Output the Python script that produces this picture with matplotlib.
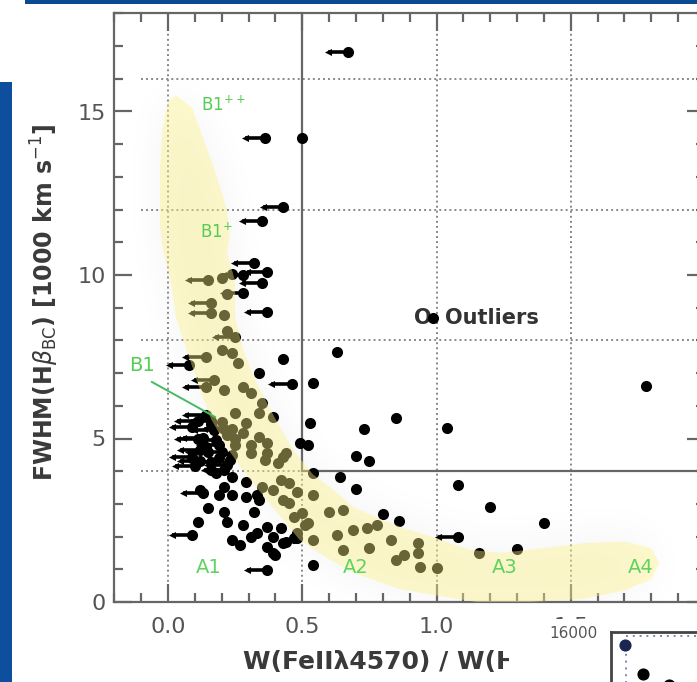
import numpy as np
import matplotlib.pyplot as plt
from matplotlib.patches import Polygon, Rectangle
from matplotlib.path import Path
from matplotlib.ticker import MultipleLocator

# FWHM(Hbeta_BC) in 1000 km/s against R_FeII = W(FeII 4570)/W(Hbeta)
det_x = [0.50, 0.24, 0.22, 0.21, 0.20, 0.26, 0.43, 0.63, 0.34, 0.54, 0.28, 0.85, 1.04, 0.53, 0.73,
         0.49, 0.52, 0.70, 0.75, 0.64, 1.08, 0.70, 1.20, 0.65, 0.80, 0.86, 0.78, 0.74, 0.48, 0.54,
         1.16, 0.54, 1.40, 1.30, 1.78,
         0.20, 0.54, 0.54, 0.50, 0.60, 0.51, 0.63, 0.75, 0.65, 0.83, 0.93, 0.85, 0.88, 0.94, 1.00,
         0.45, 0.45, 0.42, 0.31, 0.37, 0.48, 0.69, 0.93, 0.44, 0.41, 0.21, 0.31, 0.35, 0.25, 0.29,
         0.34, 0.39, 0.28, 0.34, 0.37, 0.43, 0.36, 0.31, 0.39, 0.43, 0.47, 0.52, 0.24, 0.22,
         0.21, 0.24, 0.29, 0.15, 0.11, 0.21, 0.22, 0.24, 0.27, 0.28, 0.32, 0.34, 0.33, 0.37, 0.39,
         0.42, 0.37, 0.39, 0.43, 0.35, 0.33, 0.48, 0.16, 0.23, 0.25, 0.12, 0.19, 0.18, 0.24, 0.29,
         0.31, 0.40, 0.44, 0.47, 0.20, 0.22, 0.16, 0.24, 0.19, 0.14, 0.24, 0.25]
det_y = [14.19, 10.03, 9.42, 8.78, 7.71, 7.31, 7.43, 7.65, 7.00, 6.70, 6.57, 5.63, 5.32, 5.47, 5.29,
         4.86, 4.80, 4.46, 4.31, 3.82, 3.58, 3.46, 2.91, 2.81, 2.69, 2.48, 2.35, 2.26, 1.96, 1.90,
         1.50, 1.13, 2.42, 1.62, 6.60,
         9.90, 3.94, 3.27, 2.72, 2.75, 2.35, 2.05, 1.65, 1.59, 1.90, 1.80, 1.28, 1.44, 1.07, 1.04,
         3.64, 3.03, 3.73, 4.80, 4.56, 3.36, 2.20, 1.50, 4.56, 4.25, 6.48, 6.39, 6.09, 5.78, 5.47,
         5.78, 5.66, 5.17, 5.05, 4.86, 4.43, 4.34, 4.56, 3.42, 3.12, 2.60, 2.42, 7.60, 8.30,
         3.52, 3.27, 3.67, 2.87, 2.45, 2.75, 2.45, 1.90, 1.74, 2.35, 2.75, 3.12, 2.11, 2.29, 1.99,
         2.26, 1.68, 1.50, 1.80, 3.52, 3.27, 2.11, 4.04, 4.34, 4.80, 3.42, 3.27, 3.94, 3.82, 3.21,
         1.99, 1.44, 1.83, 1.96, 5.50, 5.10, 5.45, 4.50, 4.40, 4.75, 5.30, 5.00]

# upper limits on R_FeII
lim_x = [0.67, 0.36, 0.43, 0.35, 0.32, 0.37, 0.28, 0.35, 0.28, 0.37, 0.15, 0.16, 0.16, 0.25, 0.14,
         0.08, 0.46, 0.17, 0.14, 0.14, 0.09, 0.17, 0.13, 0.19, 0.09, 0.20, 0.16, 0.21, 0.13, 0.09,
         0.37, 1.08, 0.11, 0.12, 0.10, 0.16, 0.21, 0.11, 0.18, 0.15, 0.22, 0.12]
lim_y = [16.82, 14.19, 12.08, 11.65, 10.37, 10.09, 10.00, 9.76, 9.45, 8.87, 9.85, 9.14, 8.84, 8.10, 7.49,
         7.25, 6.67, 6.79, 6.57, 5.72, 5.35, 5.26, 5.02, 4.80, 4.43, 4.59, 4.28, 4.04, 3.33, 2.05,
         0.98, 1.99, 5.55, 4.65, 4.15, 5.55, 5.30, 5.00, 4.95, 4.60, 4.20, 4.30]

# main sequence occupation (SDSS sample)
band_x = [0.03, 0.09, 0.13, 0.17, 0.22, 0.23, 0.22, 0.25, 0.25, 0.28, 0.33, 0.40, 0.47, 0.54, 0.62,
          0.69, 0.80, 0.90, 1.00, 1.12, 1.24, 1.40, 1.55, 1.70, 1.80, 1.83, 1.80,
          1.70, 1.55, 1.35, 1.15, 1.00, 0.86, 0.69, 0.58, 0.49, 0.44, 0.39, 0.33, 0.29, 0.23,
          0.16, 0.11, 0.07, 0.03, 0.01, -0.02, -0.03, -0.03, -0.02, 0.00]
band_y = [15.5, 15.1, 14.2, 13.3, 12.0, 11.2, 10.7, 9.8, 8.7, 7.7, 6.7, 5.6, 4.6, 3.9, 3.4,
          2.9, 2.5, 2.2, 1.95, 1.6, 1.5, 1.65, 1.8, 1.85, 1.65, 1.2, 0.7,
          0.35, 0.1, 0.0, 0.0, 0.2, 0.4, 0.9, 1.4, 1.9, 2.4, 2.9, 3.5, 3.9, 4.6,
          5.6, 6.7, 7.7, 8.7, 9.8, 10.8, 11.5, 13.3, 14.5, 15.3]

x_ticks = [0.0, 0.5, 1.0, 1.5, 2.0]
x_tick_labels = ['0.0', '0.5', '1.0', '1.5', '']

inset_x = [0.13, 0.29, 0.53]
inset_y = [15560, 14580, 14210]

W, H = 697, 682
fig = plt.figure(figsize=(W / 100, H / 100), dpi=100)
fig.patch.set_facecolor('white')

# slide decoration
fig.patches.append(Rectangle((0, 0), 12 / W, 600 / H, transform=fig.transFigure,
                             facecolor='#0d4f9c', edgecolor='none'))
fig.patches.append(Rectangle((25 / W, 1 - 4 / H), 1, 4 / H, transform=fig.transFigure,
                             facecolor='#0b4a90', edgecolor='none'))

ax = fig.add_axes([114.3 / W, 80 / H, 590.7 / W, 588.6 / H])

# soft grey shadow around the sequence
band = list(zip(band_x, band_y))
gx, gy = np.meshgrid(np.linspace(-0.2, 2.0, 441), np.linspace(0, 18, 361))
inside = Path(band).contains_points(np.c_[gx.ravel(), gy.ravel()]).reshape(gx.shape).astype(float)
kern = np.exp(-0.5 * (np.arange(-45, 46) / 15.0) ** 2)
kern /= kern.sum()
shade = np.apply_along_axis(lambda r: np.convolve(r, kern, mode='same'), 1, inside)
shade = np.apply_along_axis(lambda c: np.convolve(c, kern, mode='same'), 0, shade)
rgba = np.zeros(gx.shape + (4,))
rgba[..., 3] = 0.05 * shade
ax.imshow(rgba, extent=(-0.2, 2.0, 0, 18), origin='lower', aspect='auto',
          interpolation='bilinear', zorder=0.5)

ax.set_xlim(-0.2, 2.0)
ax.set_ylim(0, 18)

grey = '#666666'
dot_style = dict(color='#888888', lw=1.4, linestyle=(0, (1, 1.6)), zorder=1)
for xv in [0.0, 1.0, 1.5]:
    ax.plot([xv, xv], [0, 18], **dot_style)
ax.plot([0.5, 0.5], [0, 4], **dot_style)
for yv in [8, 12, 16]:
    ax.plot([-0.1, 2.0], [yv, yv], **dot_style)
ax.plot([-0.1, 0.5], [4, 4], **dot_style)
ax.plot([0.5, 0.5], [4, 18], color=grey, lw=1.6, zorder=1)
ax.plot([0.5, 2.0], [4, 4], color=grey, lw=1.6, zorder=1)

# limits: arrow pointing to lower R_FeII
arr = 0.075
ax.hlines(lim_y, [x - arr for x in lim_x], lim_x, color='black', lw=2.6, zorder=3)
ax.scatter([x - arr for x in lim_x], lim_y, marker='<', s=26, color='black', zorder=3, linewidths=0)
ax.scatter(lim_x, lim_y, s=64, color='black', zorder=3, linewidths=0)
ax.scatter(det_x, det_y, s=64, color='black', zorder=3, linewidths=0)

ax.add_patch(Polygon(band, closed=True, facecolor='#fff486',
                     edgecolor='none', alpha=0.41, zorder=4))

green = '#55cc55'
ax.text(0.205, 15.2, 'B1$^{++}$', color=green, fontsize=12, ha='center', va='center', zorder=5)
ax.text(0.18, 11.3, 'B1$^{+}$', color=green, fontsize=12, ha='center', va='center', zorder=5)
ax.text(-0.097, 7.22, 'B1', color=green, fontsize=14, ha='center', va='center', zorder=5)
ax.plot([-0.06, 0.175], [6.73, 5.66], color='#44bb66', lw=1.4, zorder=5)
for name, lx in zip(['A1', 'A2', 'A3', 'A4'], [0.15, 0.70, 1.255, 1.76]):
    ax.text(lx, 1.07, name, color='#5fd35f', fontsize=14, ha='center', va='center', zorder=5)

# outlier key
ax.text(0.915, 8.69, 'O', color='#333333', fontsize=15, fontweight='bold',
        ha='left', va='center', zorder=5)
ax.scatter([0.987], [8.69], s=64, color='black', zorder=5, linewidths=0)
ax.text(1.033, 8.69, 'Outliers', color='#333333', fontsize=15, fontweight='bold',
        ha='left', va='center', zorder=5)

ax.set_xticks(x_ticks, labels=x_tick_labels)
ax.xaxis.set_minor_locator(MultipleLocator(0.1))
ax.yaxis.set_major_locator(MultipleLocator(5))
ax.yaxis.set_minor_locator(MultipleLocator(1))
ax.tick_params(which='both', direction='in', top=True, right=True, color=grey, width=1.6,
               labelsize=16, labelcolor='#555555')
ax.tick_params(which='major', length=13)
ax.tick_params(which='minor', length=6.5)
ax.tick_params(axis='x', pad=11)
ax.tick_params(axis='y', pad=6)
for sp in ax.spines.values():
    sp.set_color(grey)
    sp.set_linewidth(1.6)

fig.text(243 / W, 1 - 662 / H, 'W(FeIIλ4570) / W(Hβ)', fontsize=18,
         fontweight='bold', color='#3a3a3a', ha='left', va='center')
fig.text(45 / W, 1 - 302 / H, r'FWHM(H$\beta_{\rm BC}$) [1000 km s$^{-1}$]', fontsize=17,
         fontweight='bold', color='#3a3a3a', rotation=90, ha='center', va='center')

# small overlapping panel in the corner
fig.patches.append(Rectangle((509 / W, 0), 1, 63 / H, transform=fig.transFigure,
                             facecolor='white', edgecolor='none', zorder=10))
ins = fig.add_axes([611 / W, -18 / H, 109 / W, 68 / H], zorder=11)
ins.set_xlim(0, 1)
ins.set_ylim(13700, 16000)
ins.plot([0.14, 1.0], [15870, 15870], color='#7788aa', lw=1.4, linestyle=(0, (1, 2.5)))
ins.plot([0.14, 0.14], [13700, 15870], color='#7788aa', lw=1.4, linestyle=(0, (1, 2.5)))
ins.scatter(inset_x[:1], inset_y[:1], s=60, color='#1a2550', zorder=3)
ins.scatter(inset_x[1:], inset_y[1:], s=60, color='black', zorder=3)
ins.set_xticks([])
ins.set_yticks([16000])
ins.set_yticklabels(['16000'])
ins.tick_params(axis='y', length=0, pad=10, labelsize=11, labelcolor='#555555')
for side in ['right', 'bottom']:
    ins.spines[side].set_visible(False)
for side in ['left', 'top']:
    ins.spines[side].set_color('#444444')
    ins.spines[side].set_linewidth(2)

fig.savefig('out.png', dpi=100)
